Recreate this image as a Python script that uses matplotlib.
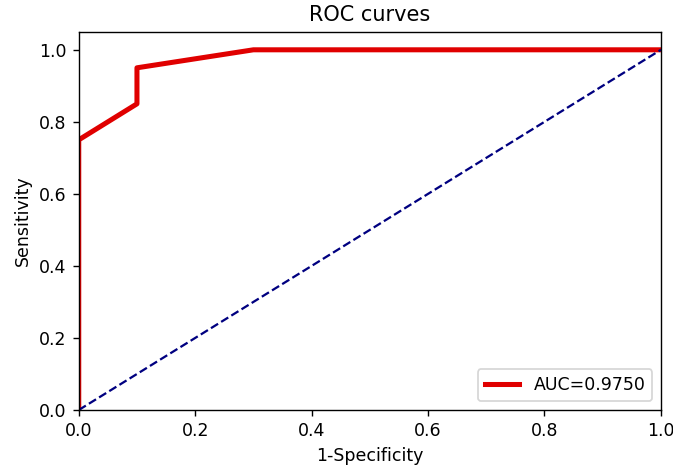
import matplotlib
matplotlib.use('Agg')
import matplotlib.pyplot as plt

# ROC points
fpr = [0.0, 0.0, 0.1, 0.1, 0.3, 1.0]
tpr = [0.0, 0.75, 0.85, 0.95, 1.0, 1.0]
auc_label = 'AUC=0.9750'

# rendered at 125 dpi so text and ticks come out a bit larger, like the original
fig = plt.figure(figsize=(673 / 125, 471 / 125), dpi=125)
ax = fig.add_axes([0.117, 0.1295, 0.865, 0.803])

ax.plot(fpr, tpr, color='#e00000', lw=2.9, label=auc_label)
ax.plot([0, 1], [0, 1], color='navy', lw=1.3, linestyle='--')

ax.set_xlim(0.0, 1.0)
ax.set_ylim(0.0, 1.05)
ax.set_xlabel('1-Specificity')
ax.set_ylabel('Sensitivity')
ax.set_title('ROC curves')
ax.legend(loc='lower right')

fig.savefig('out.png', dpi=125)
